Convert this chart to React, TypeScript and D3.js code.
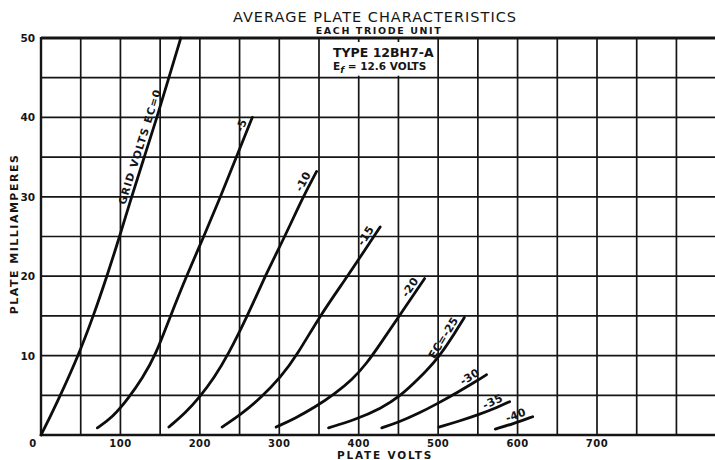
import * as d3 from 'd3'
import { FC, useEffect, useRef } from 'react'

type Pt = [number, number]

// curve labels, one per grid bias (0 ... -40 volts)
const curveLabels = ['GRID VOLTS EC=0', '-5', '-10', '-15', '-20', 'EC=-25', '-30', '-35', '-40']

// [plate volts, plate milliamperes]
const ec0: Pt[] = [[0, 0], [12, 2.4], [24, 4.9], [47, 10], [66, 15], [83, 20], [99, 25], [114, 30], [130, 35], [146, 40], [161, 45], [176, 50]]
const ec5: Pt[] = [[71, 0.9], [90, 2.2], [110, 4.6], [128, 7.2], [144, 10], [163, 15], [183, 20], [205, 25], [226, 30], [246, 35], [266, 40]]
const ec10: Pt[] = [[161, 1], [182, 2.8], [200, 4.8], [218, 7.2], [235, 10], [260, 15], [282, 20], [307, 25], [330, 30], [347, 33.2]]
const ec15: Pt[] = [[228, 1], [252, 2.6], [277, 4.7], [302, 7.3], [322, 10], [351, 15], [386, 20], [419, 25], [427, 26.2]]
const ec20: Pt[] = [[296, 1], [320, 2.1], [345, 3.5], [370, 5.2], [392, 7], [410, 9], [428, 11.6], [451, 15], [483, 19.7]]
const ec25: Pt[] = [[362, 0.9], [395, 1.9], [429, 3.4], [451, 4.8], [476, 7.1], [501, 9.8], [517, 12.2], [533, 14.8]]
const ec30: Pt[] = [[429, 0.9], [450, 1.6], [475, 2.7], [500, 4], [525, 5.4], [550, 6.9], [561, 7.6]]
const ec35: Pt[] = [[501, 1], [525, 1.7], [552, 2.6], [575, 3.5], [590, 4.2]]
const ec40: Pt[] = [[572, 0.75], [594, 1.4], [619, 2.3]]

const curves = [ec0, ec5, ec10, ec15, ec20, ec25, ec30, ec35, ec40]

const xTickLabels = [0, 100, 200, 300, 400, 500, 600, 700]
const yTickLabels = [10, 20, 30, 40, 50]

const svgWidth = 715
const svgHeight = 460
const font = "'DejaVu Sans', sans-serif"
const ink = '#151515'

const PlateChart: FC = () => {
  const chartRef = useRef<HTMLDivElement>(null)

  useEffect(() => {
    d3.select(chartRef.current).selectAll('*').remove()
    DrawChart()
  }, [])

  const DrawChart = () => {
    const svg = d3
      .select(chartRef.current)
      .append('svg')
      .attr('width', svgWidth)
      .attr('height', svgHeight)
      .style('display', 'block')
      .style('background', '#fff')

    const x = d3.scaleLinear().domain([0, 700]).range([41, 597])
    const y = d3.scaleLinear().domain([0, 50]).range([435, 38])

    // grid
    const grid = svg.append('g').attr('stroke', ink).attr('stroke-width', 1.7)
    grid
      .selectAll('line.v')
      .data(d3.range(0, 901, 50))
      .enter()
      .append('line')
      .attr('x1', (d) => x(d))
      .attr('x2', (d) => x(d))
      .attr('y1', y(0))
      .attr('y2', y(50))
    grid
      .selectAll('line.h')
      .data(d3.range(0, 51, 5))
      .enter()
      .append('line')
      .attr('x1', x(0))
      .attr('x2', svgWidth)
      .attr('y1', (d) => y(d))
      .attr('y2', (d) => y(d))
      .attr('stroke-width', (d) => (d === 50 ? 2.8 : d === 0 ? 2.4 : 1.7))
    // left edge a little heavier
    svg
      .append('line')
      .attr('x1', x(0))
      .attr('x2', x(0))
      .attr('y1', y(0) + 1)
      .attr('y2', y(50) - 1)
      .attr('stroke', ink)
      .attr('stroke-width', 2.4)

    // type box
    svg
      .append('rect')
      .attr('x', x(350) + 2)
      .attr('y', y(50) + 4)
      .attr('width', x(500) - x(350) - 4)
      .attr('height', y(45) - y(50) - 6)
      .attr('fill', '#fff')
    svg
      .append('text')
      .attr('x', x(350) + 14)
      .attr('y', y(50) + 19)
      .text('TYPE 12BH7-A')
      .style('font-family', font)
      .style('font-size', '12.5px')
      .style('font-weight', 'bold')
      .attr('fill', ink)
    const ef = svg
      .append('text')
      .attr('x', x(350) + 14)
      .attr('y', y(50) + 32)
      .style('font-family', font)
      .style('font-size', '10.5px')
      .style('font-weight', 'bold')
      .attr('fill', ink)
    ef.append('tspan').text('E')
    ef.append('tspan').text('f').attr('dy', 3).style('font-style', 'italic').style('font-size', '9px')
    ef.append('tspan').text(' = 12.6 VOLTS').attr('dy', -3)

    // titles
    svg
      .append('text')
      .attr('x', 375)
      .attr('y', 22)
      .text('AVERAGE PLATE CHARACTERISTICS')
      .style('font-family', font)
      .style('font-size', '14.5px')
      .style('letter-spacing', '1px')
      .style('text-anchor', 'middle')
      .attr('fill', ink)
    svg
      .append('text')
      .attr('x', 379)
      .attr('y', 34)
      .text('EACH TRIODE UNIT')
      .style('font-family', font)
      .style('font-size', '9.5px')
      .style('font-weight', 'bold')
      .style('letter-spacing', '1.6px')
      .style('text-anchor', 'middle')
      .attr('fill', ink)

    // axis ticks
    svg
      .append('g')
      .selectAll('text')
      .data(xTickLabels)
      .enter()
      .append('text')
      .attr('x', (d) => x(d) - (d === 0 ? 8 : 0))
      .attr('y', 447)
      .text((d) => d)
      .style('font-family', font)
      .style('font-size', '10px')
      .style('font-weight', 'bold')
      .style('letter-spacing', '0.5px')
      .style('text-anchor', 'middle')
      .attr('fill', ink)
    svg
      .append('g')
      .selectAll('text')
      .data(yTickLabels)
      .enter()
      .append('text')
      .attr('x', 35)
      .attr('y', (d) => y(d) + 4)
      .text((d) => d)
      .style('font-family', font)
      .style('font-size', '10.5px')
      .style('font-weight', 'bold')
      .style('text-anchor', 'end')
      .attr('fill', ink)

    svg
      .append('text')
      .attr('x', 385)
      .attr('y', 459)
      .text('PLATE VOLTS')
      .style('font-family', font)
      .style('font-size', '10.5px')
      .style('font-weight', 'bold')
      .style('letter-spacing', '1.8px')
      .style('text-anchor', 'middle')
      .attr('fill', ink)
    svg
      .append('text')
      .attr('transform', 'translate(18, 234) rotate(-90)')
      .text('PLATE MILLIAMPERES')
      .style('font-family', font)
      .style('font-size', '11px')
      .style('font-weight', 'bold')
      .style('letter-spacing', '1.5px')
      .style('text-anchor', 'middle')
      .attr('fill', ink)

    // curves
    const line = d3
      .line<Pt>()
      .x((d) => x(d[0]))
      .y((d) => y(d[1]))
      .curve(d3.curveBasis)

    svg
      .append('g')
      .selectAll('path')
      .data(curves)
      .enter()
      .append('path')
      .attr('d', (d) => line(d))
      .attr('fill', 'none')
      .attr('stroke', '#0d0d0d')
      .attr('stroke-width', 2.8)
      .attr('stroke-linecap', 'round')

    // curve labels, laid along the upper end of each curve
    curves.forEach((pts, i) => {
      const first = i === 0
      const a = first ? pts[6] : pts[pts.length - 2]
      const b = first ? pts[9] : pts[pts.length - 1]
      const ax = x(a[0]), ay = y(a[1]), bx = x(b[0]), by = y(b[1])
      const len = Math.hypot(bx - ax, by - ay)
      const ux = (bx - ax) / len, uy = (by - ay) / len
      const angle = (Math.atan2(by - ay, bx - ax) * 180) / Math.PI
      const px = first ? x(pts[7][0]) - ux * 10 : bx - ux * 5
      const py = first ? y(pts[7][1]) - uy * 10 : by - uy * 5
      svg
        .append('text')
        .attr('transform', `translate(${px}, ${py}) rotate(${angle})`)
        .attr('dy', -3.5)
        .text(curveLabels[i])
        .style('font-family', font)
        .style('font-size', first ? '10.5px' : '11px')
        .style('font-weight', 'bold')
        .style('letter-spacing', first ? '1.1px' : '0.3px')
        .style('text-anchor', first ? 'start' : 'end')
        .attr('fill', ink)
    })
  }

  return <div ref={chartRef} style={{ position: 'absolute', left: 0, top: 0, width: svgWidth, height: svgHeight }}></div>
}

export default function App() {
  return <PlateChart />
}
